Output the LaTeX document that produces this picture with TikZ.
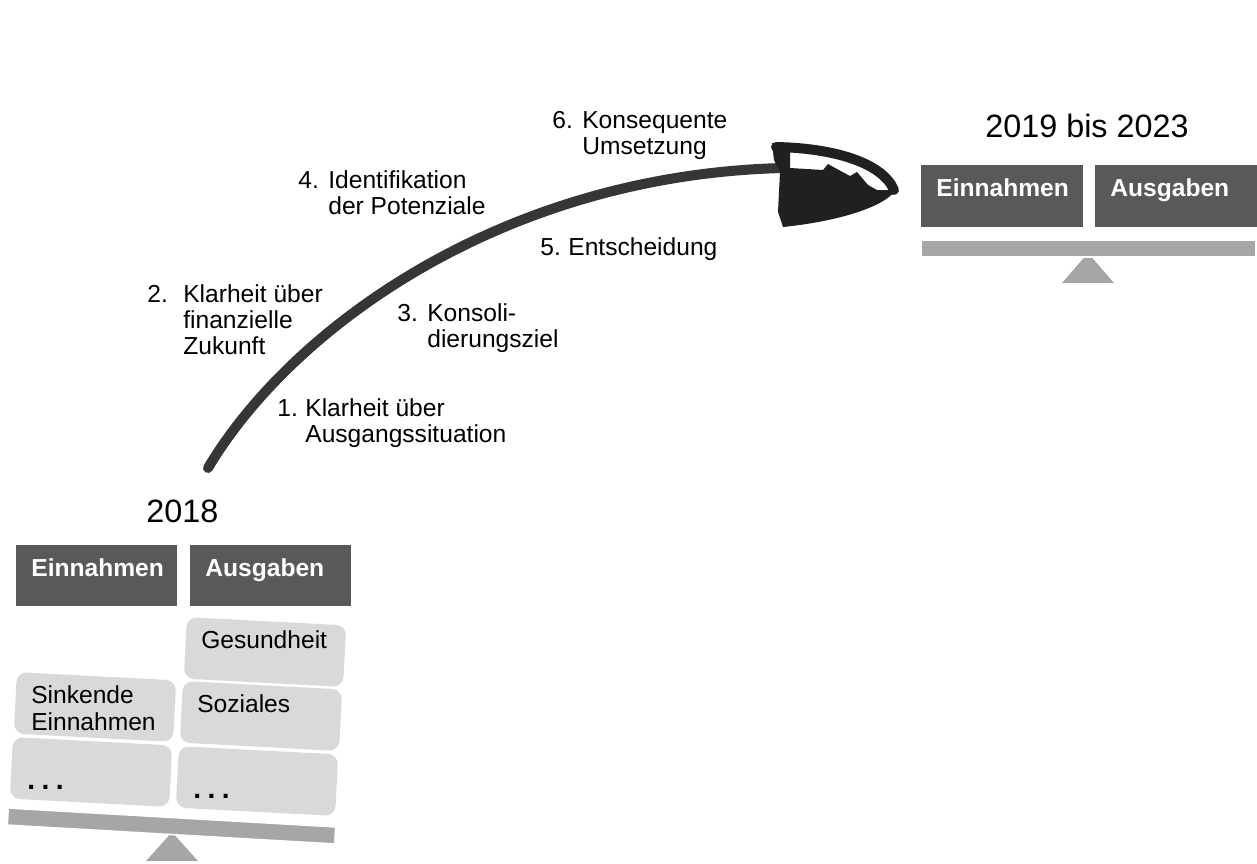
\documentclass[tikz,border=0pt]{standalone}
\usepackage{fontspec}
\setmainfont{Liberation Sans}
\usepackage{graphicx}
\usepackage{tikz}
\usetikzlibrary{positioning, calc}

\definecolor{kopf}{HTML}{595959}
\definecolor{zellgrau}{HTML}{D9D9D9}
\definecolor{waage}{HTML}{A6A6A6}
\definecolor{pfeil}{HTML}{363636}

\newcommand{\etappe}[3]{\makebox[#1][l]{#2}\begin{tabular}[t]{@{}l@{}}#3\end{tabular}}
\newcommand{\zelle}[1]{\rotatebox{3}{\parbox[t][0.86cm][t]{2.55cm}{#1}}}
\newcommand{\punkte}{\strut\raisebox{-0.4cm}{\fontsize{16pt}{16pt}\selectfont\bfseries .\hspace{0.13cm}.\hspace{0.13cm}.}}

\begin{document}
\begin{tikzpicture}[x=0.02cm, y=-0.02cm, every node/.style={inner sep=0pt},
    head/.style={fill=kopf, text=white, anchor=north west, inner xsep=0.3cm, inner ysep=0.26cm, font=\fontsize{14pt}{15pt}\selectfont\bfseries},
    cell/.style={fill=zellgrau, rounded corners=0.2cm, inner xsep=0.3cm, inner ysep=0.12cm, rotate=-3, font=\fontsize{14pt}{15.3pt}\selectfont},
    beam/.style={fill=waage, draw=white, line width=0.03cm, minimum height=0.34cm},
    year/.style={font=\fontsize{18.4pt}{20pt}\selectfont},
    lbl/.style={anchor=base west, font=\fontsize{14pt}{14.8pt}\selectfont}]
        \useasboundingbox (0,0) rectangle (1257,863);

        % Left balance (2018)
        \node[year, anchor=base west] (y2018) at (146,522) {2018};
        \node[head] (ein1) at (16,545) {\parbox[t][0.70cm][t]{2.62cm}{Einnahmen}};
        \node[head] (aus1) at (190,545) {\parbox[t][0.70cm][t]{2.62cm}{Ausgaben}};

        \node[cell] (ges) at (265,652) {\zelle{Gesundheit}};
        \node[cell] (soz) at (261,716) {\zelle{Soziales}};
        \node[cell] (rest2) at (257,781) {\zelle{\punkte}};
        \node[cell] (sink) at (95,707) {\zelle{Sinkende\\Einnahmen}};
        \node[cell] (rest1) at (91,772) {\zelle{\punkte}};

        \fill[waage] (172,832) -- (198,861) -- (146,861) -- cycle;
        \node[beam, minimum width=6.56cm, rotate=-3.3] (beam1) at (171.5,826) {};

        % Right balance (2019 bis 2023)
        \node[year, anchor=base] (y2019) at (1087,137) {2019 bis 2023};
        \node[head] (ein2) at (921,165) {\parbox[t][0.72cm][t]{2.64cm}{Einnahmen}};
        \node[head] (aus2) at (1095,165) {\parbox[t][0.72cm][t]{2.64cm}{Ausgaben}};

        \fill[waage] (1088,253) -- (1114,283) -- (1062,283) -- cycle;
        \node[beam, minimum width=6.7cm] (beam2) at (1088.5,248.5) {};

        % Steps along the arrow
        \node[lbl] (e1) at (277,416) {\etappe{0.56cm}{1.}{Klarheit über\\Ausgangssituation}};
        \node[lbl] (e2) at (147,302) {\etappe{0.72cm}{2.}{Klarheit über\\finanzielle\\Zukunft}};
        \node[lbl] (e3) at (397,321) {\etappe{0.6cm}{3.}{Konsoli-\\dierungsziel}};
        \node[lbl] (e4) at (298,188) {\etappe{0.6cm}{4.}{Identifikation\\der Potenziale}};
        \node[lbl] (e5) at (540,255) {\etappe{0.56cm}{5.}{Entscheidung}};
        \node[lbl] (e6) at (552,128) {\etappe{0.6cm}{6.}{Konsequente\\Umsetzung}};

        % Hand-drawn arrow
        \coordinate (start) at (208,468);
        \coordinate (ziel) at (783,168);
        \draw[pfeil, line width=0.2cm, line cap=round] (start) .. controls (290,330) and (500,175) .. (ziel);
        \fill[pfeil!60!black] (772,143) -- (790,146) -- (790,168) -- (823,170) -- (828,164) -- (837,169) -- (850,176) -- (857,172) -- (868,185) -- (877,190) -- (896,190) .. controls (882,209) and (832,222) .. (783,227) -- (778,212) -- (780,172) -- (774,160) -- cycle;
        \draw[pfeil!60!black, line width=0.2cm, line cap=round] (776,147) .. controls (832,148) and (882,162) .. (894,190);

    \end{tikzpicture}
\end{document}
